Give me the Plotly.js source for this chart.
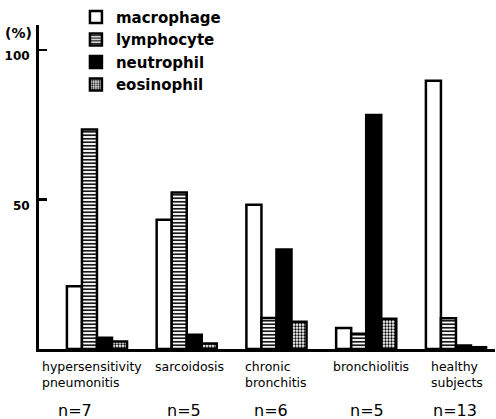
<!DOCTYPE html>
<html>
<head>
<meta charset="utf-8">
<script src="https://cdn.plot.ly/plotly-3.0.1.min.js"></script>
<style>html,body{margin:0;padding:0;background:#fff;}</style>
</head>
<body>
<div id="chart" style="width:496px;height:419px;"></div>
<script>
// ---- data ----
const categories = ["hypersensitivity<br>pneumonitis", "sarcoidosis", "chronic<br>bronchitis", "bronchiolitis", "healthy<br>subjects"];
const nLabels = ["n=7", "n=5", "n=6", "n=5", "n=13"];
const seriesNames = ["macrophage", "lymphocyte", "neutrophil", "eosinophil"];
const macrophage = [21.0, 43.2, 48.2, 7.0, 89.7];
const lymphocyte = [73.4, 52.3, 10.4, 5.1, 10.3];
const neutrophil = [3.8, 4.8, 33.3, 78.2, 1.2];
const eosinophil = [2.5, 1.8, 9.1, 10.1, 0.6];
const yTickVals = [50, 100];
const yTickText = ["50", "100"];

// ---- layout helpers (positions/styles only) ----
const xIdx = categories.map((c, i) => i);
const labelShift = [-57, -34, -33, -35, -27];
const nShift = [-22, -3, -5, 1, -1];

const line = {color: "#000", width: 2.5};
const traces = [
  {name: seriesNames[0], x: xIdx, y: macrophage, type: "bar",
   marker: {color: "#fff", line: line}},
  {name: seriesNames[1], x: xIdx, y: lymphocyte, type: "bar",
   marker: {color: "#fff", line: line,
            pattern: {shape: "-", fgcolor: "#000", bgcolor: "#fff", size: 3.5, solidity: 0.45}}},
  {name: seriesNames[2], x: xIdx, y: neutrophil, type: "bar",
   marker: {color: "#000", line: line}},
  {name: seriesNames[3], x: xIdx, y: eosinophil, type: "bar",
   marker: {color: "#fff", line: line,
            pattern: {shape: ".", fgcolor: "#000", bgcolor: "#fff", size: 3, solidity: 0.45}}}
];

const annotations = [];
categories.forEach((c, i) => {
  annotations.push({x: i, xref: "x", y: 0, yref: "y", yshift: -8,
    text: c, showarrow: false, xanchor: "left", yanchor: "top", align: "left",
    xshift: labelShift[i],
    font: {family: "DejaVu Sans", stretch: "condensed", size: 12.5, color: "#000"}});
  annotations.push({x: i, xref: "x", y: 0, yref: "y", yshift: -50,
    text: nLabels[i], showarrow: false, xanchor: "center", yanchor: "top",
    xshift: nShift[i], font: {family: "DejaVu Sans", size: 16, color: "#000"}});
});
annotations.push({x: 0, xref: "paper", xanchor: "right", xshift: -5, y: 1, yref: "paper", yanchor: "middle", yshift: -8,
  text: "<b>(%)</b>", showarrow: false,
  font: {family: "DejaVu Sans", stretch: "condensed", size: 14, color: "#000"}});

const layout = {
  width: 496, height: 419,
  margin: {l: 39, r: 1, t: 23, b: 70, pad: 0},
  paper_bgcolor: "#fff", plot_bgcolor: "#fff",
  barmode: "group", bargap: 0.33, bargroupgap: 0,
  showlegend: true,
  legend: {x: 0.081, xanchor: "left", y: 1.075, yanchor: "top", traceorder: "normal",
           font: {family: "DejaVu Sans", size: 15, color: "#000", weight: "bold"},
           bgcolor: "rgba(0,0,0,0)", borderwidth: 0},
  xaxis: {range: [-0.646, 4.435], showline: true, linewidth: 3, linecolor: "#000",
          showticklabels: false, ticks: "", showgrid: false, zeroline: false, fixedrange: true},
  yaxis: {range: [0, 108.3], showline: true, linewidth: 3, linecolor: "#000",
          tickvals: yTickVals, ticktext: yTickText, ticks: "inside", ticklen: 8, tickwidth: 2.5, tickcolor: "#000",
          ticklabelshift: 6, ticklabelstandoff: 4,
          tickfont: {family: "DejaVu Sans", stretch: "condensed", size: 12, color: "#000", weight: "bold"},
          showgrid: false, zeroline: false, fixedrange: true},
  annotations: annotations
};

Plotly.newPlot("chart", traces, layout, {displayModeBar: false, staticPlot: true});
</script>
</body>
</html>
